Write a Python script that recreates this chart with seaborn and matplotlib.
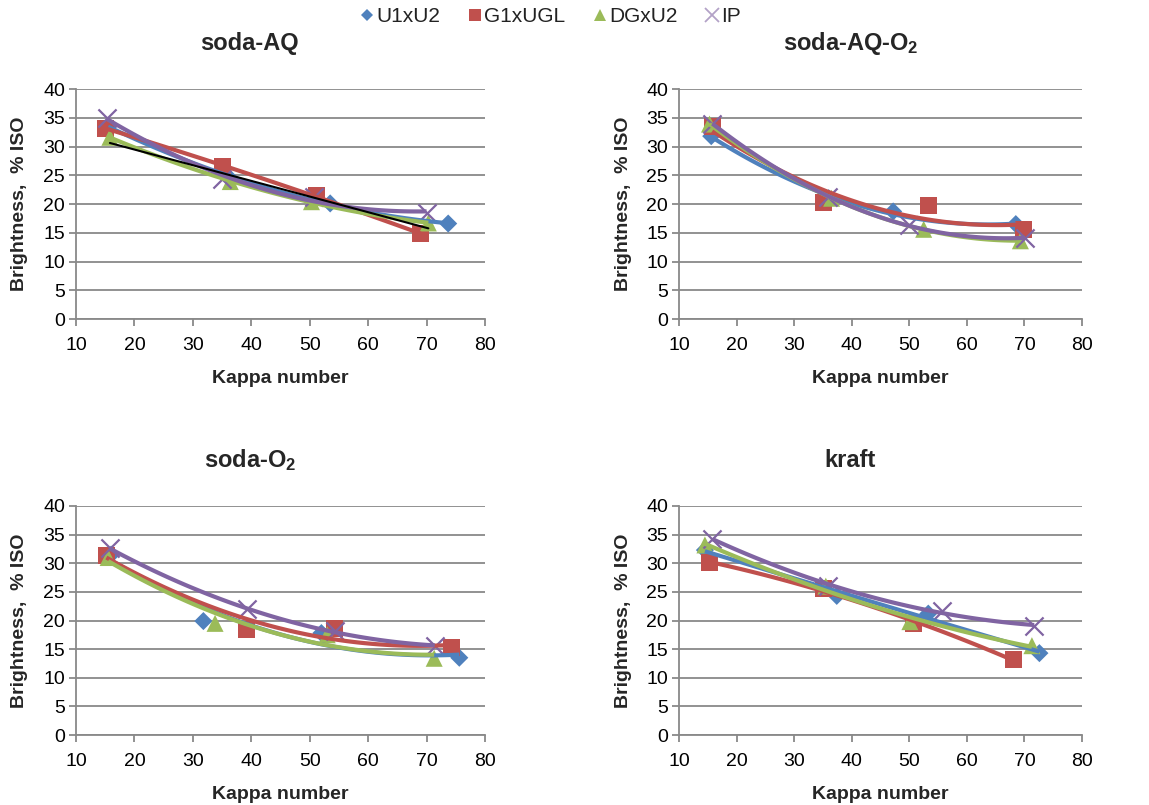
import numpy as np
import pandas as pd
import matplotlib
matplotlib.use("Agg")
import matplotlib.pyplot as plt
from matplotlib.lines import Line2D
import seaborn as sns

sns.set_style("white")
plt.rcParams['font.family'] = ['Liberation Sans', 'DejaVu Sans']
plt.rcParams['mathtext.fontset'] = 'custom'
plt.rcParams['mathtext.rm'] = 'Liberation Sans:bold'
plt.rcParams['mathtext.bf'] = 'Liberation Sans:bold'
plt.rcParams['mathtext.default'] = 'bf'

# ---- data ----
series_names = ["U1xU2", "G1xUGL", "DGxU2", "IP"]
panel_titles = ["soda-AQ", "soda-AQ-O$_2$", "soda-O$_2$", "kraft"]

# soda-AQ
aq_u1_x = [15.5, 36.0, 53.5, 73.7]; aq_u1_y = [33.5, 24.8, 20.1, 16.6]
aq_g1_x = [15.0, 35.0, 51.2, 69.0]; aq_g1_y = [33.2, 26.6, 21.4, 14.8]
aq_dg_x = [15.8, 36.4, 50.3, 70.3]; aq_dg_y = [31.6, 23.9, 20.4, 16.7]
aq_ip_x = [15.3, 35.0, 50.8, 70.0]; aq_ip_y = [35.0, 24.3, 21.2, 18.5]
# soda-AQ-O2
aqo_u1_x = [15.6, 36.0, 47.2, 68.5]; aqo_u1_y = [31.8, 21.0, 18.7, 16.5]
aqo_g1_x = [15.8, 35.1, 53.3, 69.9]; aqo_g1_y = [33.4, 20.2, 19.7, 15.6]
aqo_dg_x = [15.3, 36.5, 52.5, 69.3]; aqo_dg_y = [33.9, 21.0, 15.6, 13.6]
aqo_ip_x = [15.8, 35.8, 50.0, 70.1]; aqo_ip_y = [34.0, 21.3, 16.3, 14.1]
# soda-O2
so_u1_x = [16.0, 31.8, 52.0, 75.6]; so_u1_y = [31.5, 19.9, 17.8, 13.5]
so_g1_x = [15.2, 39.2, 54.3, 74.3]; so_g1_y = [31.4, 18.5, 18.6, 15.2]
so_dg_x = [15.5, 33.8, 53.0, 71.3]; so_dg_y = [31.0, 19.5, 17.5, 13.4]
so_ip_x = [15.8, 39.2, 54.3, 71.4]; so_ip_y = [32.6, 22.0, 18.1, 15.6]
# kraft
kr_u1_x = [14.5, 37.4, 53.3, 72.6]; kr_u1_y = [32.3, 24.3, 21.2, 14.3]
kr_g1_x = [15.3, 35.1, 50.7, 68.1]; kr_g1_y = [30.1, 25.6, 19.4, 13.2]
kr_dg_x = [14.5, 35.5, 50.1, 71.3]; kr_dg_y = [33.2, 26.0, 19.8, 15.6]
kr_ip_x = [15.8, 35.9, 55.6, 71.7]; kr_ip_y = [34.3, 26.1, 21.6, 19.1]

panels = [
    [(aq_u1_x, aq_u1_y), (aq_g1_x, aq_g1_y), (aq_dg_x, aq_dg_y), (aq_ip_x, aq_ip_y)],
    [(aqo_u1_x, aqo_u1_y), (aqo_g1_x, aqo_g1_y), (aqo_dg_x, aqo_dg_y), (aqo_ip_x, aqo_ip_y)],
    [(so_u1_x, so_u1_y), (so_g1_x, so_g1_y), (so_dg_x, so_dg_y), (so_ip_x, so_ip_y)],
    [(kr_u1_x, kr_u1_y), (kr_g1_x, kr_g1_y), (kr_dg_x, kr_dg_y), (kr_ip_x, kr_ip_y)],
]

colors = ["#4F81BD", "#C0504D", "#9BBB59", "#8064A2"]
markers = ["D", "s", "^", "x"]
msizes = [85, 150, 150, 170]
grid_c = "#898989"

fig = plt.figure(figsize=(11.49, 8.05), dpi=100)
W, H = 1149, 805
rects_px = [(76, 89, 485, 319), (679, 89, 1082, 319),
            (76, 506, 485, 735), (679, 506, 1082, 735)]

for i, (l, t, r, b) in enumerate(rects_px):
    ax = fig.add_axes([l / W, 1 - b / H, (r - l) / W, (b - t) / H])
    for j, (xs, ys) in enumerate(panels[i]):
        df = pd.DataFrame({"x": xs, "y": ys})
        if markers[j] == "x":
            sns.scatterplot(data=df, x="x", y="y", marker="x", s=msizes[j],
                            color=colors[j], linewidth=1.6, ax=ax, zorder=3)
        else:
            sns.scatterplot(data=df, x="x", y="y", marker=markers[j], s=msizes[j],
                            color=colors[j], edgecolor="none", ax=ax, zorder=3)
    for j, (xs, ys) in enumerate(panels[i]):
        df = pd.DataFrame({"x": xs, "y": ys})
        sns.regplot(data=df, x="x", y="y", order=2, ci=None, scatter=False,
                    truncate=True, ax=ax, color=colors[j],
                    line_kws=dict(lw=3.0, zorder=4 + j, solid_capstyle="butt"))
    if i == 0:
        df = pd.DataFrame({"x": aq_dg_x, "y": aq_dg_y})
        sns.regplot(data=df, x="x", y="y", order=1, ci=None, scatter=False,
                    truncate=True, ax=ax, color="black",
                    line_kws=dict(lw=1.5, zorder=9))

    ax.set_xlim(10, 80)
    ax.set_ylim(0, 40)
    ax.set_xticks(np.arange(10, 81, 10))
    ax.set_yticks(np.arange(0, 41, 5))
    ax.yaxis.grid(True, color=grid_c, lw=1.3)
    ax.xaxis.grid(False)
    ax.set_axisbelow(True)
    for s in ["top", "right"]:
        ax.spines[s].set_visible(False)
    for s in ["left", "bottom"]:
        ax.spines[s].set_visible(True)
        ax.spines[s].set_color(grid_c)
        ax.spines[s].set_linewidth(1.3)
    ax.tick_params(axis="both", direction="out", length=5, width=1.3,
                   color=grid_c, labelsize=14, labelcolor="black",
                   left=True, bottom=True)
    ax.tick_params(axis="x", pad=8)
    ax.tick_params(axis="y", pad=3)
    ax.set_xlabel("Kappa number", fontsize=14, fontweight="bold")
    ax.set_ylabel("Brightness,  % ISO", fontsize=14, fontweight="bold")
    ax.xaxis.set_label_coords(0.5, -0.222)
    ax.yaxis.set_label_coords(-0.117, 0.5)
    ax.text(0.425, 1.2, panel_titles[i], transform=ax.transAxes, ha="center",
            va="center", fontsize=17, fontweight="bold")

handles = []
leg_ms = [6.5, 8.5, 8.5, 9.5]
for j in range(4):
    if markers[j] == "x":
        h = Line2D([], [], ls="none", marker="x", color="#B3A2C7", markersize=leg_ms[j],
                   markeredgewidth=1.3)
    else:
        h = Line2D([], [], ls="none", marker=markers[j], color=colors[j],
                   markersize=leg_ms[j], markeredgewidth=0)
    handles.append(h)
fig.legend(handles, series_names, loc="center", bbox_to_anchor=(551 / W, 1 - 17 / H),
           ncol=4, frameon=False, fontsize=15, handlelength=0.6, handletextpad=0.15,
           columnspacing=1.35, labelcolor="#222222")

fig.savefig("out.png", dpi=100)
